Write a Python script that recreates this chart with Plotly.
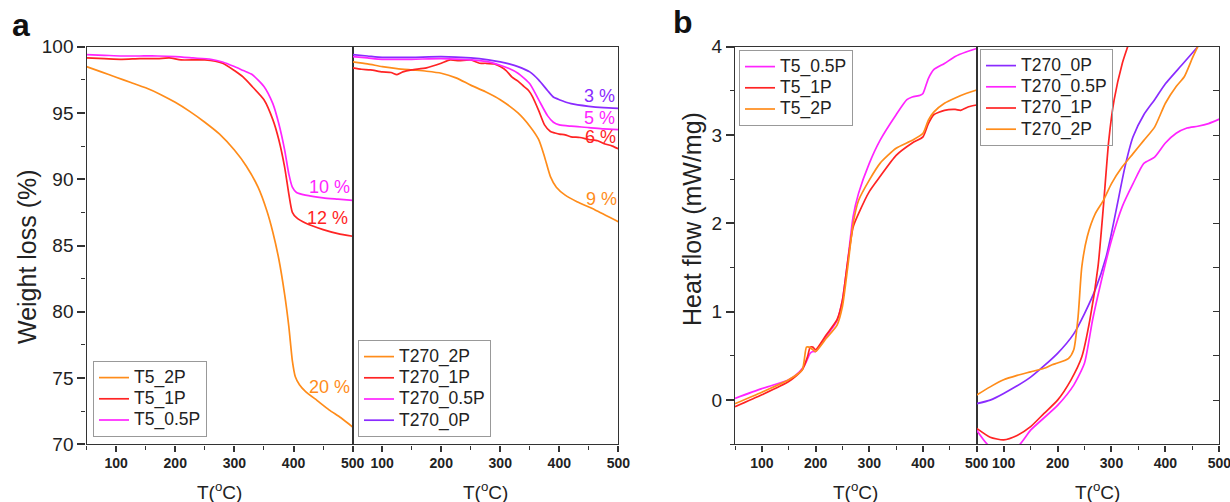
import plotly.graph_objects as go

# ---------------- data: TGA, T5 series ----------------
t5_2p_T = [50, 75, 100, 125, 150, 175, 200, 225, 250, 275, 300, 320, 340, 355, 365, 375, 385, 392, 398, 403, 410, 420, 440, 460, 480, 500]
t5_2p_W = [98.5, 98.1, 97.7, 97.3, 96.9, 96.4, 95.8, 95.1, 94.3, 93.4, 92.2, 91.0, 89.4, 87.6, 86.0, 84.0, 81.3, 78.9, 76.3, 75.1, 74.5, 74.0, 73.3, 72.6, 72.0, 71.3]

t5_1p_T = [50, 80, 110, 140, 170, 190, 210, 250, 280, 300, 315, 330, 350, 365, 375, 385, 392, 398, 405, 420, 450, 475, 500]
t5_1p_W = [99.15, 99.1, 99.05, 99.1, 99.1, 99.15, 99.0, 99.0, 98.75, 98.2, 97.7, 97.0, 96.0, 94.5, 93.0, 90.9, 88.9, 87.5, 87.1, 86.7, 86.2, 85.9, 85.7]

t5_05p_T = [50, 80, 110, 140, 170, 200, 230, 260, 280, 300, 315, 330, 350, 365, 375, 385, 392, 398, 405, 420, 450, 475, 500]
t5_05p_W = [99.4, 99.35, 99.3, 99.3, 99.3, 99.25, 99.15, 99.05, 98.85, 98.5, 98.2, 97.9, 97.0, 95.7, 94.2, 92.2, 90.4, 89.4, 89.0, 88.8, 88.6, 88.5, 88.4]

# ---------------- data: TGA, T270 series ----------------
t270_2p_T = [50, 75, 100, 125, 150, 175, 200, 225, 250, 275, 300, 330, 350, 365, 375, 385, 395, 410, 430, 460, 500]
t270_2p_W = [98.85, 98.7, 98.5, 98.35, 98.25, 98.15, 98.0, 97.65, 97.1, 96.6, 96.0, 95.0, 94.0, 93.0, 91.7, 90.2, 89.4, 88.8, 88.3, 87.7, 86.8]

t270_1p_T = [50, 65, 80, 100, 115, 125, 135, 150, 175, 200, 215, 230, 250, 265, 275, 290, 300, 310, 320, 330, 340, 348, 355, 365, 375, 385, 392, 400, 410, 420, 435, 450, 465, 475, 490, 500]
t270_1p_W = [98.4, 98.3, 98.25, 98.1, 98.05, 97.9, 98.1, 98.25, 98.4, 98.75, 99.0, 98.95, 99.0, 98.75, 98.75, 98.7, 98.5, 98.2, 97.7, 97.4, 97.0, 96.7, 96.2, 95.2, 94.1, 93.6, 93.5, 93.4, 93.35, 93.2, 93.15, 93.0, 92.9, 92.7, 92.5, 92.3]

t270_05p_T = [50, 75, 100, 150, 200, 250, 280, 300, 315, 330, 350, 365, 380, 390, 400, 420, 450, 475, 500]
t270_05p_W = [99.25, 99.15, 99.05, 99.05, 99.1, 99.0, 98.85, 98.6, 98.35, 98.0, 97.2, 96.0, 94.8, 94.3, 94.1, 94.0, 93.9, 93.8, 93.75]

t270_0p_T = [50, 75, 100, 150, 200, 250, 280, 300, 315, 330, 350, 365, 380, 390, 400, 420, 450, 475, 500]
t270_0p_W = [99.4, 99.3, 99.2, 99.2, 99.25, 99.15, 99.0, 98.85, 98.7, 98.5, 98.1, 97.5, 96.7, 96.2, 96.0, 95.7, 95.5, 95.4, 95.35]

# ---------------- data: DSC, T5 series ----------------
d5_05p_T = [50, 100, 150, 170, 180, 190, 195, 200, 220, 240, 250, 260, 270, 280, 300, 320, 350, 370, 380, 395, 400, 410, 420, 440, 460, 480, 500]
d5_05p_H = [0.02, 0.13, 0.23, 0.32, 0.40, 0.53, 0.55, 0.55, 0.72, 0.90, 1.13, 1.58, 2.08, 2.34, 2.68, 2.94, 3.23, 3.40, 3.43, 3.45, 3.47, 3.64, 3.74, 3.81, 3.89, 3.94, 3.98]

d5_1p_T = [50, 100, 150, 175, 185, 190, 195, 200, 220, 240, 250, 260, 270, 280, 300, 320, 350, 380, 400, 410, 420, 440, 460, 470, 485, 500]
d5_1p_H = [-0.075, 0.06, 0.21, 0.34, 0.49, 0.60, 0.60, 0.57, 0.74, 0.91, 1.13, 1.58, 1.96, 2.11, 2.36, 2.53, 2.77, 2.91, 2.98, 3.13, 3.23, 3.28, 3.29, 3.28, 3.32, 3.34]

d5_2p_T = [50, 100, 150, 175, 183, 188, 195, 200, 220, 240, 250, 260, 270, 280, 300, 320, 350, 380, 400, 410, 420, 440, 460, 480, 500]
d5_2p_H = [-0.04, 0.09, 0.23, 0.34, 0.60, 0.60, 0.57, 0.55, 0.70, 0.85, 1.06, 1.51, 2.00, 2.26, 2.49, 2.68, 2.85, 2.94, 3.02, 3.17, 3.26, 3.36, 3.42, 3.47, 3.51]

# ---------------- data: DSC, T270 series ----------------
d270_0p_T = [50, 75, 100, 150, 200, 230, 250, 270, 290, 300, 310, 325, 340, 360, 380, 400, 430, 460]
d270_0p_H = [-0.04, 0.0, 0.075, 0.26, 0.53, 0.75, 0.98, 1.25, 1.62, 1.89, 2.19, 2.64, 2.98, 3.23, 3.40, 3.58, 3.79, 4.0]

d270_05p_T = [50, 70, 100, 130, 150, 200, 230, 250, 265, 280, 300, 320, 340, 360, 380, 400, 420, 440, 460, 480, 500]
d270_05p_H = [-0.34, -0.5, -0.6, -0.5, -0.34, -0.06, 0.17, 0.42, 0.91, 1.32, 1.81, 2.19, 2.45, 2.68, 2.75, 2.91, 3.02, 3.08, 3.10, 3.13, 3.18]

d270_1p_T = [50, 75, 100, 125, 150, 175, 200, 225, 245, 260, 275, 285, 295, 305, 320, 330, 340]
d270_1p_H = [-0.32, -0.42, -0.45, -0.40, -0.30, -0.15, 0.0, 0.23, 0.49, 0.91, 1.51, 2.19, 2.94, 3.40, 3.81, 4.0, 4.2]

d270_2p_T = [50, 75, 100, 125, 150, 175, 190, 200, 220, 230, 238, 245, 255, 270, 285, 300, 320, 340, 360, 380, 400, 420, 435, 450, 460]
d270_2p_H = [0.057, 0.15, 0.23, 0.28, 0.32, 0.36, 0.40, 0.42, 0.47, 0.57, 0.94, 1.51, 1.85, 2.11, 2.26, 2.45, 2.64, 2.79, 2.94, 3.09, 3.36, 3.55, 3.66, 3.87, 4.0]

# labels
loss_labels_a1 = ["10 %", "12 %", "20 %"]
loss_pos_a1 = [(460, 89.4), (458, 87.1), (461, 74.3)]
loss_labels_a2 = ["3 %", "5 %", "6 %", "9 %"]
loss_pos_a2 = [(468, 96.3), (468, 94.6), (469, 93.2), (472, 88.5)]

ORANGE = "#FF8C1A"
RED = "#FF2424"
MAGENTA = "#FF24FF"
PURPLE = "#8A2BFF"
FONT = "Liberation Sans"
AXC = "#333333"

fig = go.Figure()


def add(x, y, name, color, xa, ya, leg):
    fig.add_trace(go.Scatter(x=x, y=y, name=f'<span style="font-size:17.5px">{name}</span>',
                             mode="lines",
                             line=dict(color=color, width=1.7, shape="spline", smoothing=0.6),
                             xaxis=xa, yaxis=ya, legend=leg))


add(t5_2p_T, t5_2p_W, "T5_2P", ORANGE, "x", "y", "legend")
add(t5_1p_T, t5_1p_W, "T5_1P", RED, "x", "y", "legend")
add(t5_05p_T, t5_05p_W, "T5_0.5P", MAGENTA, "x", "y", "legend")

add(t270_2p_T, t270_2p_W, "T270_2P", ORANGE, "x2", "y2", "legend2")
add(t270_1p_T, t270_1p_W, "T270_1P", RED, "x2", "y2", "legend2")
add(t270_05p_T, t270_05p_W, "T270_0.5P", MAGENTA, "x2", "y2", "legend2")
add(t270_0p_T, t270_0p_W, "T270_0P", PURPLE, "x2", "y2", "legend2")

add(d5_05p_T, d5_05p_H, "T5_0.5P", MAGENTA, "x3", "y3", "legend3")
add(d5_1p_T, d5_1p_H, "T5_1P", RED, "x3", "y3", "legend3")
add(d5_2p_T, d5_2p_H, "T5_2P", ORANGE, "x3", "y3", "legend3")

add(d270_0p_T, d270_0p_H, "T270_0P", PURPLE, "x4", "y4", "legend4")
add(d270_05p_T, d270_05p_H, "T270_0.5P", MAGENTA, "x4", "y4", "legend4")
add(d270_1p_T, d270_1p_H, "T270_1P", RED, "x4", "y4", "legend4")
add(d270_2p_T, d270_2p_H, "T270_2P", ORANGE, "x4", "y4", "legend4")

W, H = 1230, 502


def px(xp):
    return xp / W


def py(yp):
    return 1 - yp / H


YDOM = [py(444.3), py(46.7)]
xdoms = [[px(86.5), px(352.7)], [px(352.7), px(618.3)], [px(735), px(976.7)], [px(976.7), px(1219.3)]]

xcommon = dict(range=[50, 500], tick0=0, dtick=100, ticks="outside", ticklen=6, tickwidth=1.5,
               tickcolor=AXC, showline=True, linecolor=AXC, linewidth=1.4, mirror=True,
               showgrid=False, zeroline=False, automargin=False, ticklabeloverflow="allow",
               tickfont=dict(family=FONT, size=14, color="#222", weight="bold"),
               minor=dict(dtick=50, tick0=0, ticks="outside", ticklen=4, tickwidth=1.2, tickcolor=AXC))

layout = dict(width=W, height=H, margin=dict(l=0, r=0, t=0, b=0, pad=0, autoexpand=False),
              template="none",
              paper_bgcolor="white", plot_bgcolor="white", showlegend=True)
for i, dom in enumerate(xdoms):
    key = "xaxis" if i == 0 else f"xaxis{i+1}"
    ya = "y" if i == 0 else f"y{i+1}"
    layout[key] = dict(xcommon, domain=dom, anchor=ya)

ycommonA = dict(range=[70, 100], domain=YDOM, showline=True, linecolor=AXC, linewidth=1.4,
                mirror=True, showgrid=False, zeroline=False, automargin=False)
layout["yaxis"] = dict(ycommonA, anchor="x", tick0=0, dtick=5, ticks="outside", ticklen=8,
                       tickwidth=1.5, tickcolor=AXC,
                       tickfont=dict(family=FONT, size=19, color="#222"),
                       minor=dict(dtick=2.5, tick0=0, ticks="outside", ticklen=4, tickwidth=1.2, tickcolor=AXC))
layout["yaxis2"] = dict(ycommonA, anchor="x2", showticklabels=False, ticks="")

ycommonB = dict(range=[-0.5, 4], domain=YDOM, showline=True, linecolor=AXC, linewidth=1.4,
                mirror=True, showgrid=False, zeroline=False, automargin=False)
layout["yaxis3"] = dict(ycommonB, anchor="x3", tick0=0, dtick=1, ticks="outside", ticklen=8,
                        tickwidth=1.5, tickcolor=AXC,
                        tickfont=dict(family=FONT, size=19, color="#222"),
                        minor=dict(dtick=0.5, tick0=0, ticks="outside", ticklen=4, tickwidth=1.2, tickcolor=AXC))
layout["yaxis4"] = dict(ycommonB, anchor="x4", side="right", showticklabels=False, tick0=0, dtick=0.5,
                        ticks="inside", ticklen=6, tickwidth=1.2, tickcolor=AXC)

legfont = dict(family=FONT, size=14, color="#222")
legbase = dict(font=legfont, bgcolor="rgba(255,255,255,0)", bordercolor="#999999", borderwidth=1,
               xanchor="left", yanchor="top", tracegroupgap=0, itemwidth=30)
layout["legend"] = dict(legbase, x=px(93), y=py(437), yanchor="bottom")
layout["legend2"] = dict(legbase, x=px(358), y=py(437), yanchor="bottom")
layout["legend3"] = dict(legbase, x=px(739), y=py(50))
layout["legend4"] = dict(legbase, x=px(980), y=py(49))

fig.update_layout(**layout)

ann = []
ann_colors_a1 = [MAGENTA, RED, ORANGE]
for txt, (xv, yv), c in zip(loss_labels_a1, loss_pos_a1, ann_colors_a1):
    ann.append(dict(x=xv, y=yv, xref="x", yref="y", text=txt, showarrow=False,
                    font=dict(family=FONT, size=18, color=c)))
ann_colors_a2 = [PURPLE, MAGENTA, RED, ORANGE]
for txt, (xv, yv), c in zip(loss_labels_a2, loss_pos_a2, ann_colors_a2):
    ann.append(dict(x=xv, y=yv, xref="x2", yref="y2", text=txt, showarrow=False,
                    font=dict(family=FONT, size=18, color=c)))

CM = dict(xanchor="center", yanchor="middle", showarrow=False, xref="paper", yref="paper")
for dom in xdoms:
    ann.append(dict(CM, x=(dom[0] + dom[1]) / 2, y=py(491), text="T(<sup>o</sup>C)",
                    font=dict(family=FONT, size=19, color="#222")))

ann.append(dict(CM, x=px(27), y=py(257), text="Weight loss (%)", textangle=-90,
                font=dict(family=FONT, size=25, color="#222")))
ann.append(dict(CM, x=px(692), y=py(219), text="Heat flow (mW/mg)", textangle=-90,
                font=dict(family=FONT, size=25, color="#222")))
ann.append(dict(CM, x=px(21), y=py(25), text="<b>a</b>",
                font=dict(family=FONT, size=32, color="#111")))
ann.append(dict(CM, x=px(683), y=py(22), text="<b>b</b>",
                font=dict(family=FONT, size=32, color="#111")))

fig.update_layout(annotations=ann)

fig.write_html("out.html", config={"displayModeBar": False},
               post_script="document.body.style.margin='0';")
